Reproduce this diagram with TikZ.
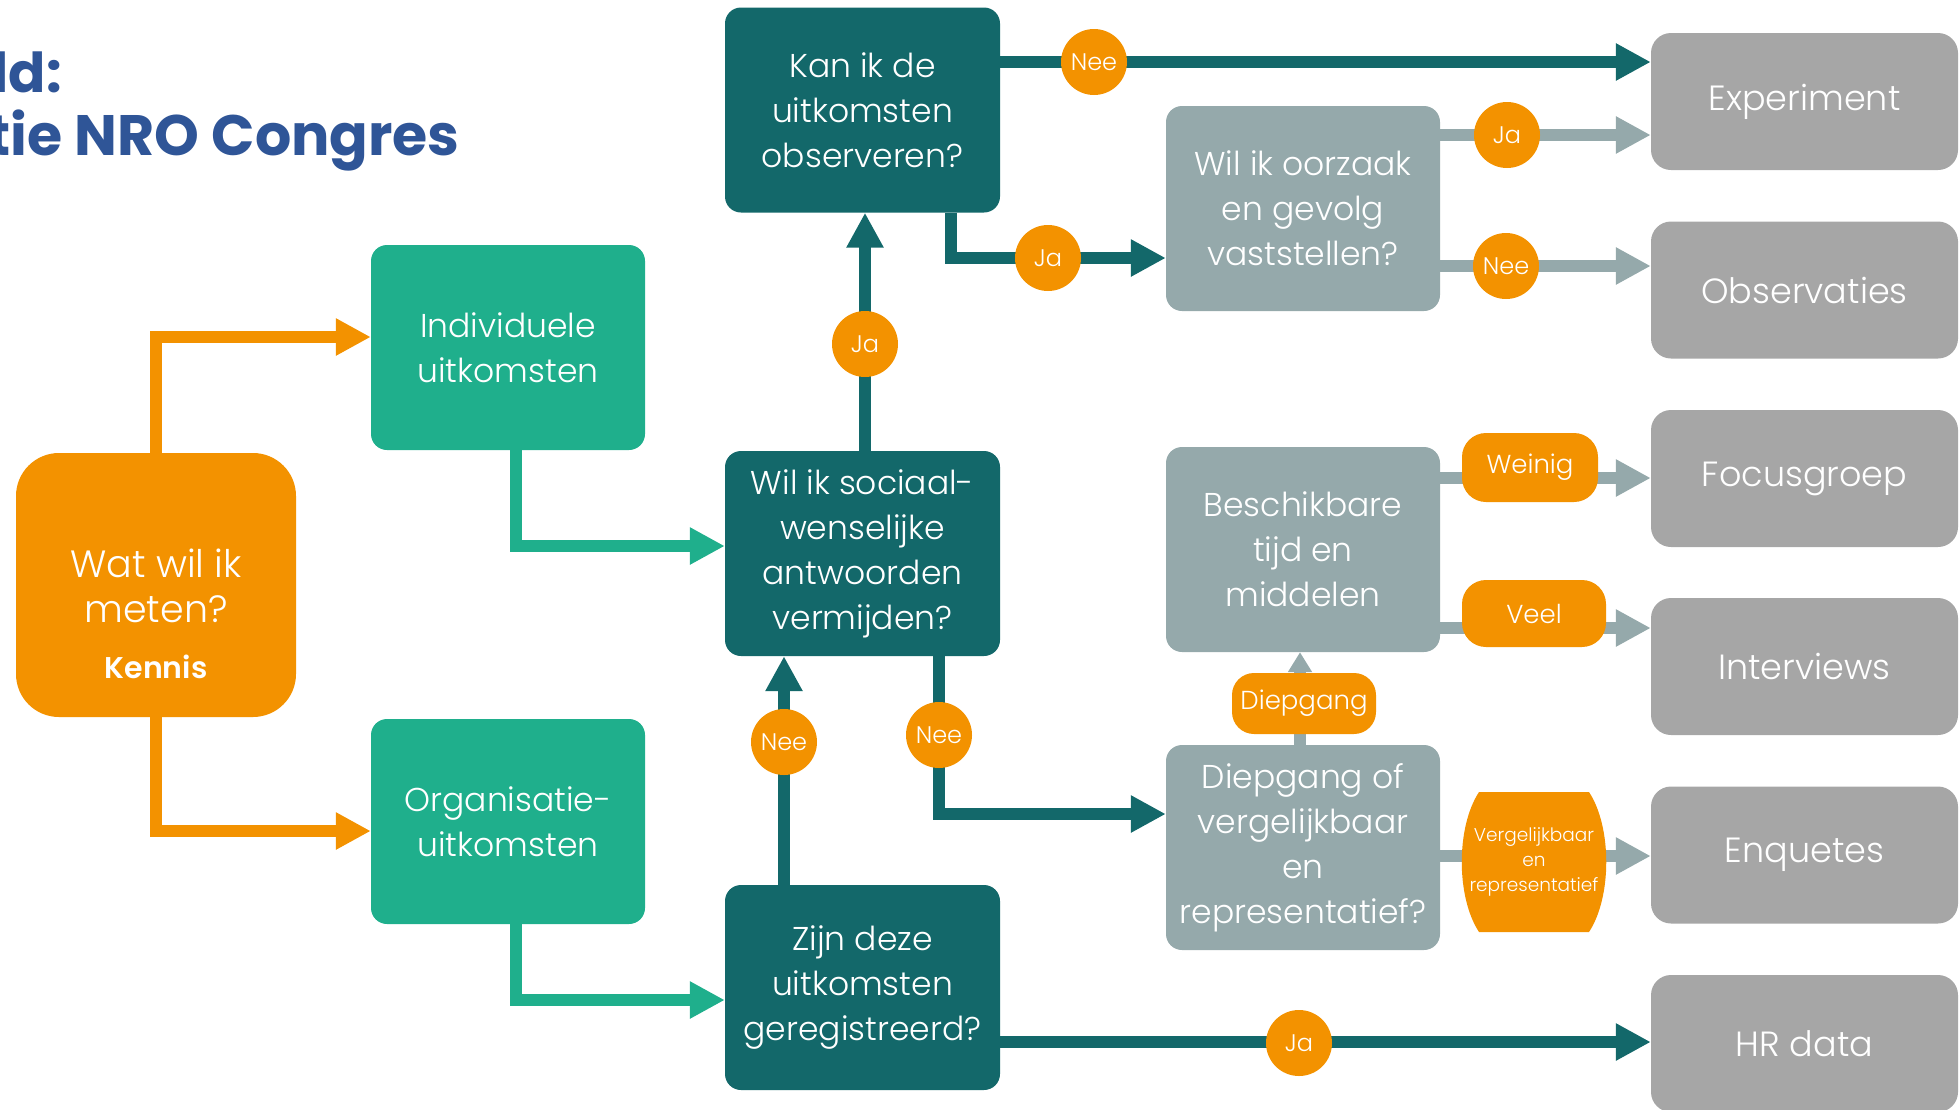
\documentclass[tikz,border=0pt]{standalone}
\usepackage{fontspec}
\setmainfont{Poppins}[UprightFont=* Light, BoldFont=* SemiBold]
\newfontfamily\headfont{Poppins}[UprightFont=* Bold]
\usetikzlibrary{arrows.meta,calc}
\definecolor{orng}{HTML}{F39200}
\definecolor{dteal}{HTML}{13686A}
\definecolor{lteal}{HTML}{1FAF8C}
\definecolor{gblue}{HTML}{95A9AB}
\definecolor{lgray}{HTML}{A6A6A6}
\definecolor{tblue}{HTML}{2F5597}

\begin{document}
\begin{tikzpicture}[x=1pt,y=-1pt,
  box/.style={rounded corners=16, minimum width=274, minimum height=205,
    inner sep=0, align=center, text=white, font=\fontsize{33}{45}\selectfont},
  darkbox/.style={box, fill=dteal, minimum width=275},
  greenbox/.style={box, fill=lteal},
  slatebox/.style={box, fill=gblue},
  endbox/.style={box, fill=lgray, rounded corners=20, minimum width=307,
    minimum height=137, font=\fontsize{35}{42}\selectfont},
  startbox/.style={fill=orng, rounded corners=43, minimum width=280,
    minimum height=264, inner sep=0},
  starttext/.style={anchor=base, inner sep=0, text=white},
  conn/.style={line width=12, -{Triangle[length=35pt,width=35pt]}},
  smallconn/.style={line width=12, -{Triangle[length=20pt,width=23pt]}},
  yesno/.style={circle, fill=orng, minimum size=66, inner sep=0, text=white,
    font=\fontsize{24}{28}\selectfont},
  pill/.style={rounded corners=24, fill=orng, inner sep=0, text=white,
    font=\fontsize{26}{30}\selectfont},
  titletext/.style={anchor=base east, inner sep=0, text=tblue,
    font=\headfont\fontsize{57}{62}\selectfont}
]
\useasboundingbox (0,0) rectangle (1959,1109);

% heading, running off the left edge
\node[titletext, font=\headfont\fontsize{55}{62}\selectfont] (head1) at (62,92) {ld:};
\node[titletext] (head2) at (460,155) {tie NRO Congres};

% start
\node[startbox] (start) at (156,585) {};
\node[starttext, font=\fontsize{38}{45}\selectfont] (startq1) at (156,577) {Wat wil ik};
\node[starttext, font=\fontsize{38}{45}\selectfont] (startq2) at (156,622) {meten?};
\node[starttext, font=\bfseries\fontsize{30}{34}\selectfont] (startk) at (156,678) {Kennis};

% outcome types
\node[greenbox] (ind) at (508,347.5) {Individuele\\uitkomsten};
\node[greenbox] (org) at (508,821.5) {Organisatie-\\uitkomsten};

% main questions
\node[darkbox] (kan) at (862.5,110) {Kan ik de\\uitkomsten\\observeren?};
\node[darkbox] (soc) at (862.5,553.5) {Wil ik sociaal-\\wenselijke\\antwoorden\\vermijden?};
\node[darkbox] (zijn) at (862.5,987.5) {Zijn deze\\uitkomsten\\geregistreerd?};

% follow-up questions
\node[slatebox] (oorz) at (1303,208.5) {Wil ik oorzaak\\en gevolg\\vaststellen?};
\node[slatebox] (besch) at (1303,549.5) {Beschikbare\\tijd en\\middelen};
\node[slatebox] (diep) at (1303,847.5) {Diepgang of\\vergelijkbaar\\en\\representatief?};

% methods
\node[endbox] (exp) at (1804.5,101.5) {Experiment};
\node[endbox] (obs) at (1804.5,290) {Observaties};
\node[endbox] (foc) at (1804.5,478.5) {Focusgroep};
\node[endbox] (int) at (1804.5,666.5) {Interviews};
\node[endbox] (enq) at (1804.5,855) {Enquetes};
\node[endbox] (hr) at (1804.5,1043.5) {HR data};

% connectors from the start
\draw[conn, orng] (start.north) |- (ind.west |- 0,337);
\draw[conn, orng] (start.south) |- (org.west |- 0,831);
\draw[conn, lteal] (ind.south -| 516,0) |- (soc.west |- 0,546);
\draw[conn, lteal] (org.south -| 516,0) |- (zijn.west |- 0,1000);

% main question flow
\draw[conn, dteal] (kan.east |- 0,62) -- (exp.west |- 0,62);
\draw[conn, dteal] (kan.south -| 951,0) |- (oorz.west |- 0,258);
\draw[conn, dteal] (soc.north -| 865,0) -- (kan.south -| 865,0);
\draw[conn, dteal] (zijn.north -| 784,0) -- (soc.south -| 784,0);
\draw[conn, dteal] (soc.south -| 939,0) |- (diep.west |- 0,814);
\draw[conn, dteal] (zijn.east |- 0,1042) -- (hr.west |- 0,1042);

% follow-up flow
\draw[conn, gblue] (oorz.east |- 0,135) -- (exp.west |- 0,135);
\draw[conn, gblue] (oorz.east |- 0,266) -- (obs.west |- 0,266);
\draw[smallconn, gblue] (diep.north -| 1300,0) -- (besch.south -| 1300,0);
\draw[conn, gblue] (besch.east |- 0,478) -- (foc.west |- 0,478);
\draw[conn, gblue] (besch.east |- 0,628) -- (int.west |- 0,628);
\draw[conn, gblue] (diep.east |- 0,856) -- (enq.west |- 0,856);

% answer labels
\node[yesno] (a1) at (1094,62) {Nee};
\node[yesno] (a2) at (1048,258) {Ja};
\node[yesno] (a3) at (1507,135) {Ja};
\node[yesno] (a4) at (1506,266) {Nee};
\node[yesno] (a5) at (865,344) {Ja};
\node[yesno] (a6) at (784,742) {Nee};
\node[yesno] (a7) at (939,735) {Nee};
\node[yesno] (a8) at (1299,1043) {Ja};

\node[pill, minimum width=144, minimum height=61, rounded corners=22] (p1) at (1304,703.5) {Diepgang};
\node[pill, minimum width=136, minimum height=69] (p2) at (1530,467.5) {Weinig};
\node[pill, minimum width=144, minimum height=67] (p3) at (1534,613.5) {Veel};

% barrel-shaped label
\coordinate (vr) at (1534,862);
\fill[orng] ($(vr)+(-55,-70)$) -- ($(vr)+(55,-70)$)
  .. controls ($(vr)+(78,-35)$) and ($(vr)+(78,35)$) .. ($(vr)+(55,70)$)
  -- ($(vr)+(-55,70)$)
  .. controls ($(vr)+(-78,35)$) and ($(vr)+(-78,-35)$) .. cycle;
\node[inner sep=0, align=center, text=white, font=\fontsize{18.5}{25}\selectfont]
  (p4) at (vr) {Vergelijkbaar\\en\\representatief};
\end{tikzpicture}
\end{document}
